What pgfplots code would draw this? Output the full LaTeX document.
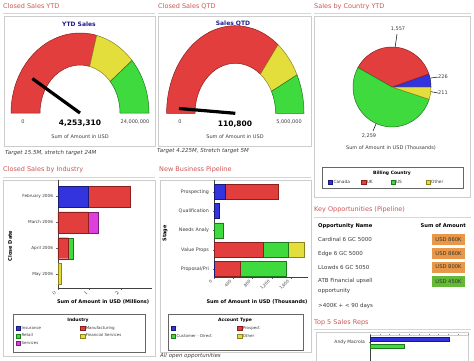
\documentclass[border=0pt]{standalone}
\usepackage{pgfplots}
\pgfplotsset{compat=1.18}
\usepackage{fontspec}
\setmainfont{DejaVu Sans}
\newcommand{\fs}[1]{\fontsize{#1}{#1}\selectfont}
\definecolor{ttl}{RGB}{205,85,85}
\definecolor{uline}{RGB}{236,205,200}
\definecolor{frm}{RGB}{205,205,205}
\definecolor{gred}{RGB}{226,62,62}
\definecolor{gredd}{RGB}{140,30,30}
\definecolor{gyel}{RGB}{228,222,60}
\definecolor{gyeld}{RGB}{140,130,30}
\definecolor{ggrn}{RGB}{62,218,62}
\definecolor{ggrnd}{RGB}{30,120,30}
\definecolor{cblue}{RGB}{52,52,222}
\definecolor{cblued}{RGB}{25,25,120}
\definecolor{cmag}{RGB}{222,62,222}
\definecolor{cmagd}{RGB}{120,30,120}
\definecolor{dblue}{RGB}{30,30,140}
\definecolor{txt}{RGB}{60,60,60}
\definecolor{orng}{RGB}{232,152,72}
\definecolor{tgrn}{RGB}{100,185,55}

\newcommand{\band}[8]{\filldraw[fill=#1,draw=#2,line width=0.5pt] (axis cs:0,0) ++(#3:#5pt and #6pt) arc[start angle=#3,end angle=#4,x radius=#5pt,y radius=#6pt] -- ([shift={(#4:#7pt and #8pt)}]axis cs:0,0) arc[start angle=#4,end angle=#3,x radius=#7pt,y radius=#8pt] -- cycle;}
\newcommand{\slice}[4]{\filldraw[fill=#1,draw=#2,line width=0.5pt] (axis cs:0,0) -- ++(#3:39pt and 40pt) arc[start angle=#3,end angle=#4,x radius=39pt,y radius=40pt] -- cycle;}

\pgfplotsset{
  sqleg/.style={legend image code/.code={\draw[##1,line width=0.4pt] (0pt,-1.8pt) rectangle (4.2pt,2.4pt);}},
  barax/.style={scale only axis, xbar stacked, axis x line*=bottom, axis y line*=left,
    axis line style={black!75,line width=0.4pt}, tick style={black!60,line width=0.3pt},
    major tick length=1.5pt, tick align=outside, scaled x ticks=false,
    ticklabel style={font=\fs{4.2},text=txt}, xticklabel style={rotate=45,anchor=east,font=\fs{4}},
    enlargelimits=false, clip=false, sqleg, legend cell align=left,
    legend style={draw=none,fill=none,font=\fs{4},text=txt,anchor=north west,inner sep=0pt,row sep=1.5pt,
      nodes={inner sep=0.8pt}},
    xlabel style={font=\bfseries\fs{5}, anchor=center},
    ylabel style={font=\bfseries\fs{5}, anchor=center},
  }
}

\begin{document}
\begin{tikzpicture}
\useasboundingbox (0,0) rectangle (474pt,-360pt);
\fill[white] (0,0) rectangle (474pt,-360pt);
\clip (0,0) rectangle (474pt,-360pt);

\begin{scope}[x=1pt,y=-1pt]
\begin{scope}[every node/.style={anchor=west, inner sep=0pt, text=ttl, font=\fs{6.5}}]
\node at (3,6.5) {Closed Sales YTD};
\node at (158,6.5) {Closed Sales QTD};
\node at (314,6.5) {Sales by Country YTD};
\node at (3,170) {Closed Sales by Industry};
\node at (159,170) {New Business Pipeline};
\node at (314,210) {Key Opportunities (Pipeline)};
\node at (314,323) {Top 5 Sales Reps};
\end{scope}
\draw[uline, line width=0.8pt] (3,13.5) -- (155,13.5) (158,13.5) -- (311,13.5) (314,13.5) -- (471,13.5)
 (3,177) -- (155,177) (159,177) -- (311,177) (314,217) -- (471,217) (314,329.5) -- (471,329.5);
\draw[frm, line width=0.6pt] (4,16) rectangle (155,146) (158,16) rectangle (311,146) (314,16) rectangle (470,197)
 (3,180) rectangle (155,356) (160,180) rectangle (311,352) (316,332) rectangle (468,365);
% gauge texts
\node[font=\bfseries\fs{6}, text=dblue] at (79,24) {YTD Sales};
\node[font=\fs{5}, text=txt] at (23,122) {0};
\node[font=\fs{5}, text=txt] at (135,122) {24,000,000};
\node[font=\bfseries\fs{7.5}] at (80,123.5) {4,253,310};
\node[font=\fs{5}, text=txt] at (80,137) {Sum of Amount in USD};
\node[anchor=west, inner sep=0pt, font=\itshape\fs{5.5}, text=txt] at (5,153) {Target 15.5M, stretch target 24M};
\node[font=\bfseries\fs{6}, text=dblue] at (233,24) {Sales QTD};
\node[font=\fs{5}, text=txt] at (180,122) {0};
\node[font=\fs{5}, text=txt] at (289,122) {5,000,000};
\node[font=\bfseries\fs{7.5}] at (235,124) {110,800};
\node[font=\fs{5}, text=txt] at (235,137) {Sum of Amount in USD};
\node[anchor=west, inner sep=0pt, font=\itshape\fs{5.5}, text=txt] at (157,151) {Target 4.225M, Stretch target 5M};
% pie texts
\begin{scope}[every node/.style={font=\fs{5}, text=txt}]
\node at (398,29) {1,557};
\node at (443,77) {226};
\node at (443,93) {211};
\node at (369,136) {2,259};
\node at (391,148) {Sum of Amount in USD (Thousands)};
\end{scope}
\draw[black, line width=0.5pt] (397,34) -- (394,55) (438,77) -- (417,80) (438,93) -- (417,89) (373,131) -- (381,112);
\draw[black!60, line width=0.4pt] (322,167) rectangle (463,188);
\node[font=\bfseries\fs{4.5}] at (392,173) {Billing Country};
% legend frames
\draw[black!60, line width=0.4pt] (13,314) rectangle (145,352) (168,314) rectangle (303,350);
\node[font=\bfseries\fs{4.5}] at (78,320) {Industry};
\node[font=\bfseries\fs{4.5}] at (235,320) {Account Type};
\node[anchor=west, inner sep=0pt, font=\itshape\fs{5.5}, text=txt] at (160,355.5) {All open opportunities};
% key opportunities table
\node[anchor=west, inner sep=0pt, font=\bfseries\fs{5.2}] at (318,226) {Opportunity Name};
\node[anchor=east, inner sep=0pt, font=\bfseries\fs{5.2}] at (466,226) {Sum of Amount};
\begin{scope}[every node/.style={anchor=west, inner sep=0pt, font=\fs{5.5}, text=txt}]
\node at (318,239.5) {Cardinal 6 GC 5000};
\node at (318,253.5) {Edge 6 GC 5000};
\node at (318,267) {LLowds 6 GC 5050};
\node at (318,281) {ATB Financial upsell};
\node at (318,291) {opportunity};
\node at (318,306) {>400K + < 90 days};
\end{scope}
\begin{scope}[every node/.style={minimum width=33pt, minimum height=11pt, inner sep=0pt, font=\fs{5.2}, text=black!80}]
\node[fill=orng] at (448.5,239.5) {USD 860K};
\node[fill=orng] at (448.5,253.5) {USD 860K};
\node[fill=orng] at (448.5,267) {USD 800K};
\node[fill=tgrn] at (448.5,281.5) {USD 450K};
\end{scope}
\end{scope}

% ---------- YTD gauge
\begin{axis}[at={(5pt,-118pt)}, anchor=south west, x=1pt, y=1pt, xmin=-75, xmax=75, ymin=-5, ymax=85, hide axis, clip=false]
\band{gred}{gredd}{180}{76}{69}{80}{40}{48}
\band{gyel}{gyeld}{76}{41}{69}{80}{40}{48}
\band{ggrn}{ggrnd}{41}{0}{69}{80}{40}{48}
\addplot[black, line width=3.2pt] coordinates {(0,0) (-47.6,34.4)};
\end{axis}

% ---------- QTD gauge
\begin{axis}[at={(160.3pt,-118.3pt)}, anchor=south west, x=1pt, y=1pt, xmin=-75, xmax=75, ymin=-5, ymax=92, hide axis, clip=false]
\band{gred}{gredd}{180}{51.5}{68.7}{87.6}{40.3}{50}
\band{gyel}{gyeld}{51.5}{26}{68.7}{87.6}{40.3}{50}
\band{ggrn}{ggrnd}{26}{0}{68.7}{87.6}{40.3}{50}
\addplot[black, line width=3.2pt] coordinates {(0,0) (-56.3,4.8)};
\end{axis}

% ---------- Pie
\begin{axis}[at={(342pt,-137pt)}, anchor=south west, x=1pt, y=1pt, xmin=-50, xmax=50, ymin=-50, ymax=50,
  hide axis, clip=false, sqleg, legend columns=4,
  legend style={draw=none,fill=none,font=\fs{4.3},text=txt,anchor=north west,inner sep=0pt,
    nodes={inner sep=0.8pt}, at={(axis description cs:-0.14,-0.42)}}, legend cell align=left]
\slice{cblue}{cblued}{0}{19.1}
\slice{gred}{gredd}{19.1}{150.9}
\slice{ggrn}{ggrnd}{150.9}{342.1}
\slice{gyel}{gyeld}{342.1}{360}
\addlegendimage{fill=cblue,draw=cblued}\addlegendentry{\makebox[27pt][l]{Canada}}
\addlegendimage{fill=gred,draw=gredd}\addlegendentry{\makebox[23pt][l]{UK}}
\addlegendimage{fill=ggrn,draw=ggrnd}\addlegendentry{\makebox[29pt][l]{US}}
\addlegendimage{fill=gyel,draw=gyeld}\addlegendentry{\makebox[16pt][l]{Other}}
\end{axis}

% ---------- Industry
\begin{axis}[barax, at={(58pt,-288pt)}, anchor=south west, width=94pt, height=108pt,
  bar width=21pt, xmin=0, xmax=3, ymin=-0.54, ymax=3.64,
  xtick={0,1,2}, ytick={0,1,2,3}, yticklabels={May 2006,April 2006,March 2006,February 2006},
  xlabel={Sum of Amount in USD (Millions)}, xlabel style={at={(axis description cs:0.48,-0.13)}},
  ylabel={Close Date}, ylabel style={at={(axis description cs:-0.51,0.39)}},
  legend columns=2, legend style={at={(axis description cs:-0.447,-0.345)}}]
\addplot[fill=cblue,draw=cblued] coordinates {(0.97,3) (0,2) (0,1) (0,0)};
\addlegendentry{\makebox[58pt][l]{Insurance}}
\addplot[fill=gred,draw=gredd] coordinates {(1.32,3) (0.97,2) (0.33,1) (0,0)};
\addlegendentry{Manufacturing}
\addplot[fill=ggrn,draw=ggrnd] coordinates {(0,3) (0,2) (0.14,1) (0,0)};
\addlegendentry{\makebox[58pt][l]{Retail}}
\addplot[fill=gyel,draw=gyeld] coordinates {(0,3) (0,2) (0,1) (0.1,0)};
\addlegendentry{Financial Services}
\addplot[fill=cmag,draw=cmagd] coordinates {(0,3) (0.30,2) (0,1) (0,0)};
\addlegendentry{\makebox[58pt][l]{Services}}
\end{axis}

% ---------- Pipeline
\begin{axis}[barax, at={(214pt,-277pt)}, anchor=south west, width=94pt, height=97pt,
  bar width=15pt, xmin=0, xmax=1955, ymin=-0.42, ymax=4.62,
  xtick={0,400,800,1200,1600}, xticklabels={0,400,800,{1,200},{1,600}},
  ytick={0,1,2,3,4}, yticklabels={Proposal/Pri,Value Props,Needs Analy,Qualification,Prospecting},
  ticklabel style={font=\fs{4.8}},
  xlabel={Sum of Amount in USD (Thousands)}, xlabel style={at={(axis description cs:0.457,-0.258)}},
  ylabel={Stage}, ylabel style={at={(axis description cs:-0.52,0.45)}},
  legend columns=2, legend style={at={(axis description cs:-0.457,-0.5)}}]
\addplot[fill=cblue,draw=cblued] coordinates {(229,4) (104,3) (0,2) (0,1) (10,0)};
\addlegendentry{\makebox[60pt][l]{-}}
\addplot[fill=gred,draw=gredd] coordinates {(1097,4) (0,3) (0,2) (1028,1) (530,0)};
\addlegendentry{Prospect}
\addplot[fill=ggrn,draw=ggrnd] coordinates {(0,4) (0,3) (194,2) (521,1) (971,0)};
\addlegendentry{\makebox[60pt][l]{Customer - Direct}}
\addplot[fill=gyel,draw=gyeld] coordinates {(0,4) (0,3) (0,2) (326,1) (0,0)};
\addlegendentry{Other}
\end{axis}

% ---------- Top 5 Sales Reps
\begin{axis}[scale only axis, at={(370pt,-419pt)}, anchor=south west, width=98pt, height=84pt,
  xbar, bar width=4pt, xmin=0, xmax=10, ymin=-0.5, ymax=4.44, enlargelimits=false,
  axis x line*=top, axis y line*=left, x axis line style={black!20}, y axis line style={black!75},
  tick style={black!45,line width=0.3pt}, major tick length=1.5pt, tick align=outside,
  xtick={0,1,...,10}, xticklabels={}, ytick={4}, yticklabels={Andy Macrola},
  ticklabel style={font=\fs{4.5},text=txt}]
\addplot[fill=cblue,draw=cblued,bar shift=3.5pt] coordinates {(8.06,4)};
\addplot[fill=ggrn,draw=ggrnd,bar shift=-3.5pt] coordinates {(3.47,4)};
\end{axis}
\end{tikzpicture}
\end{document}
